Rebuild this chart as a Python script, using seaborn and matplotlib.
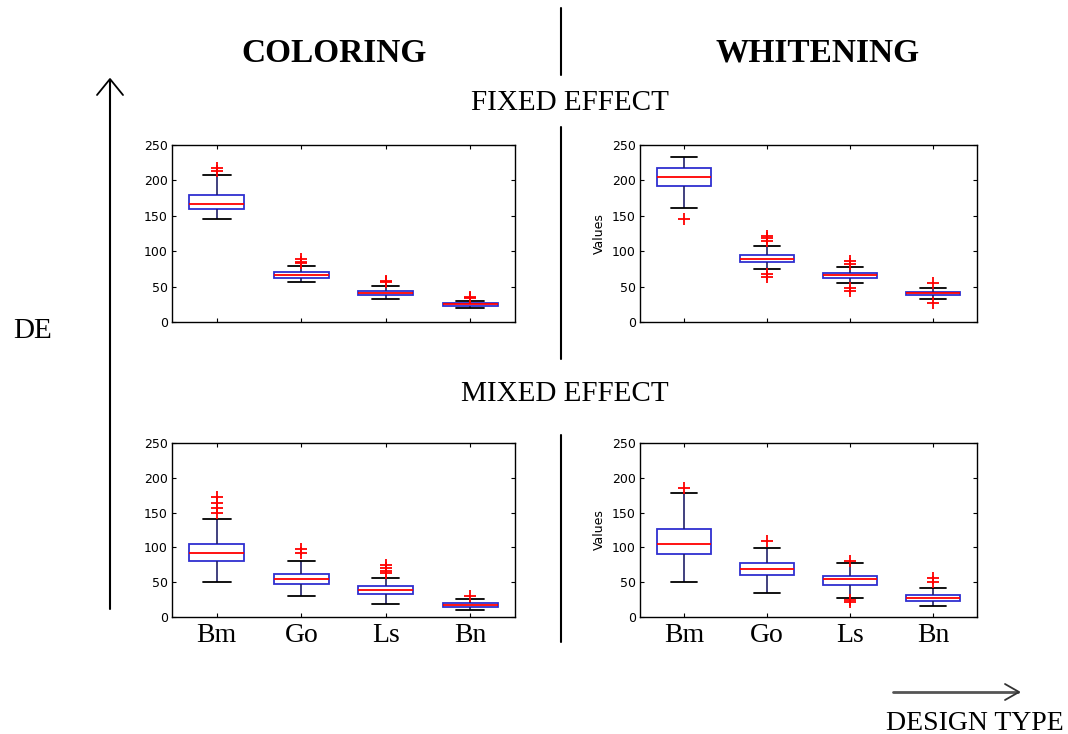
import numpy as np
import pandas as pd
import matplotlib
matplotlib.use("Agg")
import matplotlib.pyplot as plt
from matplotlib.lines import Line2D
import seaborn as sns

designs = ["Bm", "Go", "Ls", "Bn"]

# summary statistics: q1, median, q3, lower whisker, upper whisker, outliers
col_fixed_q1 = [160, 62, 38, 23]
col_fixed_med = [167, 66, 41, 25]
col_fixed_q3 = [180, 70, 44, 27]
col_fixed_lo = [146, 56, 33, 20]
col_fixed_hi = [207, 79, 51, 29]
col_fixed_out = [[213, 218], [83, 85, 89], [56, 58], [34, 36]]

whi_fixed_q1 = [192, 85, 62, 38]
whi_fixed_med = [205, 89, 66, 41]
whi_fixed_q3 = [218, 95, 69, 43]
whi_fixed_lo = [161, 75, 55, 32]
whi_fixed_hi = [233, 107, 78, 48]
whi_fixed_out = [[146], [64, 68, 114, 118, 122], [44, 48, 82, 86], [27, 55]]

col_mixed_q1 = [80, 47, 33, 14]
col_mixed_med = [92, 54, 39, 17]
col_mixed_q3 = [105, 62, 44, 20]
col_mixed_lo = [50, 30, 19, 10]
col_mixed_hi = [141, 80, 56, 26]
col_mixed_out = [[149, 156, 164, 173], [92, 97], [63, 66, 70, 75], [30]]

whi_mixed_q1 = [90, 60, 46, 23]
whi_mixed_med = [105, 69, 54, 27]
whi_mixed_q3 = [126, 78, 59, 31]
whi_mixed_lo = [51, 34, 28, 16]
whi_mixed_hi = [178, 99, 77, 42]
whi_mixed_out = [[186], [109], [22, 25, 81], [51, 56]]

y_ticks = [0, 50, 100, 150, 200, 250]


def build_frame(q1, med, q3, lo, hi, out, k=50):
    rows = []
    for i, d in enumerate(designs):
        vals = [lo[i]] + [q1[i]] * k + [med[i]] * k + [q3[i]] * k + [hi[i]] + list(out[i])
        rows += [(d, v) for v in vals]
    return pd.DataFrame(rows, columns=["design", "value"])


sns.set_style("ticks")
plt.rcParams["font.family"] = ["DejaVu Sans"]
plt.rcParams["text.color"] = "black"
plt.rcParams["axes.labelcolor"] = "black"
plt.rcParams["xtick.color"] = "black"
plt.rcParams["ytick.color"] = "black"

W, H = 1068, 734
fig = plt.figure(figsize=(W / 100, H / 100), dpi=100)


def rect(l, t, r, b):
    return [l / W, 1 - b / H, (r - l) / W, (b - t) / H]


panels = [
    (rect(172, 145, 515, 322), build_frame(col_fixed_q1, col_fixed_med, col_fixed_q3, col_fixed_lo, col_fixed_hi, col_fixed_out), False, ""),
    (rect(640, 145, 977, 322), build_frame(whi_fixed_q1, whi_fixed_med, whi_fixed_q3, whi_fixed_lo, whi_fixed_hi, whi_fixed_out), False, "Values"),
    (rect(172, 443, 515, 617), build_frame(col_mixed_q1, col_mixed_med, col_mixed_q3, col_mixed_lo, col_mixed_hi, col_mixed_out), True, ""),
    (rect(640, 443, 977, 617), build_frame(whi_mixed_q1, whi_mixed_med, whi_mixed_q3, whi_mixed_lo, whi_mixed_hi, whi_mixed_out), True, "Values"),
]

blue = "#2f2fd0"
for pos, df, show_x, ylab in panels:
    ax = fig.add_axes(pos)
    sns.boxplot(
        data=df, x="design", y="value", order=designs, ax=ax,
        width=0.65, color="white", linecolor=blue, linewidth=1.3,
        boxprops=dict(edgecolor=blue, facecolor="white"),
        medianprops=dict(color="red", linewidth=1.3),
        whiskerprops=dict(color="#20206a", linewidth=1.2),
        capprops=dict(color="black", linewidth=1.3),
        flierprops=dict(marker="+", markeredgecolor="red", markerfacecolor="red",
                        markersize=8, markeredgewidth=1.3),
    )
    ax.set_xlim(-0.53, 3.53)
    ax.set_ylim(0, 250)
    ax.set_yticks(y_ticks)
    ax.set_xlabel("")
    ax.set_ylabel(ylab, fontsize=9, labelpad=4, color="black")
    for s in ax.spines.values():
        s.set_visible(True)
        s.set_color("black")
        s.set_linewidth(1.0)
    ax.tick_params(axis="both", direction="in", top=True, right=True, length=3,
                   width=0.8, labelsize=9, pad=3, colors="black")
    if show_x:
        ax.tick_params(axis="x", pad=4)
        for lbl in ax.get_xticklabels():
            lbl.set_fontfamily("Liberation Serif")
            lbl.set_fontsize(20)
    else:
        ax.tick_params(axis="x", labelbottom=False)

serif = "Liberation Serif"


def fy(y):
    return 1 - y / H


fig.text(334 / W, fy(62), "COLORING", family=serif, fontsize=24, weight="bold", ha="center", va="baseline", color="black")
fig.text(818 / W, fy(62), "WHITENING", family=serif, fontsize=24, weight="bold", ha="center", va="baseline", color="black")
fig.text(570 / W, fy(110), "FIXED EFFECT", family=serif, fontsize=21, ha="center", va="baseline", color="black")
fig.text(565 / W, fy(401), "MIXED EFFECT", family=serif, fontsize=21, ha="center", va="baseline", color="black")
fig.text(33 / W, fy(338), "DE", family=serif, fontsize=21, ha="center", va="baseline", color="black")
fig.text(975 / W, fy(730), "DESIGN TYPE", family=serif, fontsize=20, ha="center", va="baseline", color="black")

for y0, y1 in [(8, 75), (127, 359), (435, 642)]:
    fig.add_artist(Line2D([561 / W, 561 / W], [fy(y0), fy(y1)], color="black", lw=1.5))

fig.add_artist(Line2D([110 / W, 110 / W], [fy(80), fy(609)], color="black", lw=1.5))
fig.add_artist(Line2D([97 / W, 110 / W, 123 / W], [fy(95), fy(79), fy(95)], color="black", lw=1.3))

fig.add_artist(Line2D([893 / W, 1018 / W], [fy(692), fy(692)], color="#555555", lw=2.0))
fig.add_artist(Line2D([1005 / W, 1019 / W, 1005 / W], [fy(684), fy(692), fy(700)], color="#333333", lw=1.3))

fig.savefig("out.png", dpi=100, facecolor="white")
